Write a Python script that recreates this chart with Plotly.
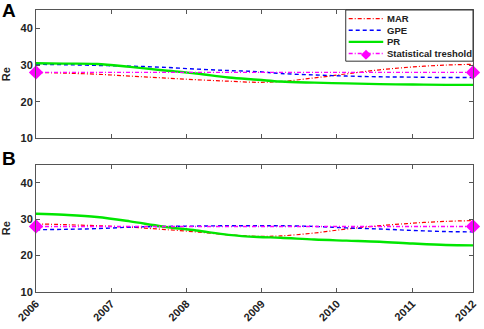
import plotly.graph_objects as go

# ---- data ----
years = [2006.00, 2006.37, 2006.81, 2007.25, 2007.68, 2008.13, 2008.56, 2008.95,
         2009.25, 2009.70, 2010.13, 2010.57, 2011.01, 2011.45, 2011.81]

mar_a = [28.0, 27.8, 27.5, 27.0, 26.5, 26.0, 25.6, 25.3, 25.5, 26.5, 27.6, 28.7, 29.5, 30.0, 30.2]
gpe_a = [30.2, 30.1, 29.9, 29.7, 29.4, 28.9, 28.5, 28.2, 27.7, 27.3, 27.0, 26.8, 26.7, 26.6, 26.6]
pr_a  = [30.5, 30.4, 30.3, 29.5, 28.6, 27.7, 26.6, 26.0, 25.5, 25.2, 25.0, 24.8, 24.7, 24.6, 24.6]

mar_b = [28.7, 28.5, 28.2, 27.8, 27.2, 26.5, 25.7, 25.3, 25.4, 26.2, 27.3, 28.2, 28.9, 29.4, 29.6]
gpe_b = [27.1, 27.2, 27.4, 27.8, 28.0, 28.1, 28.2, 28.2, 28.2, 28.0, 27.6, 27.3, 26.9, 26.6, 26.5]
pr_b  = [31.5, 31.2, 30.6, 29.4, 28.0, 26.9, 25.7, 25.1, 24.9, 24.4, 24.1, 23.8, 23.3, 22.9, 22.8]

threshold_x = [2006.00, 2011.81]
threshold_y = [28.0, 28.0]

x_tick_pos = [2006, 2007, 2008, 2009, 2010, 2011, 2011.81]
x_tick_labels = ["2006", "2007", "2008", "2009", "2010", "2011", "2012"]
y_ticks = [10, 20, 30, 40]

series_names = ["MAR", "GPE", "PR", "Statistical treshold"]
series_colors = ["#ff0000", "#0000ff", "#00e600", "#ff00ff"]
series_dash = ["4px,2px,1px,2px", "4px,3px", "solid", "4px,2px,1px,2px"]
series_width = [1.2, 1.4, 2.4, 1.4]

panel_labels = ["A", "B"]

FONT = "Liberation Sans"
W, H = 484, 329
ML, MR, MT, MB = 35, 6, 10, 27
PW, PH = W - ML - MR, H - MT - MB


def px_to_paper(px, py):
    return (px - ML) / PW, (H - MB - py) / PH


fig = go.Figure()

panels = [([mar_a, gpe_a, pr_a], "x", "y"), ([mar_b, gpe_b, pr_b], "x2", "y2")]
for vals, xa, ya in panels:
    for i, v in enumerate(vals):
        fig.add_trace(go.Scatter(x=years, y=v, name=series_names[i], mode="lines",
                                 line_shape="spline",
                                 line=dict(color=series_colors[i], width=series_width[i],
                                           dash=series_dash[i]),
                                 xaxis=xa, yaxis=ya, showlegend=False))
    fig.add_trace(go.Scatter(x=threshold_x, y=threshold_y, name=series_names[3],
                             mode="lines+markers",
                             line=dict(color=series_colors[3], width=series_width[3],
                                       dash=series_dash[3]),
                             marker=dict(symbol="diamond", size=11, color=series_colors[3]),
                             cliponaxis=False, xaxis=xa, yaxis=ya, showlegend=False))

ax_common = dict(showline=True, linecolor="#555555", linewidth=1, mirror="ticks",
                 ticks="inside", ticklen=4, tickcolor="#555555", showgrid=False,
                 zeroline=False,
                 tickfont=dict(family=FONT, size=11, color="#222222", weight="bold"))
ytitle = dict(text="<b>Re</b>", standoff=7, font=dict(family=FONT, size=11, color="#222222"))

fig.update_layout(
    width=W, height=H,
    margin=dict(l=ML, r=MR, t=MT, b=MB),
    paper_bgcolor="white", plot_bgcolor="white",
    font=dict(family=FONT, color="#222222"),
    xaxis=dict(domain=[0, 1], anchor="y", range=[2006, 2011.81], tickvals=x_tick_pos,
               ticktext=x_tick_labels, showticklabels=False, **ax_common),
    yaxis=dict(domain=[0.5445, 1], anchor="x", range=[10, 45], tickvals=y_ticks,
               title=ytitle, **ax_common),
    xaxis2=dict(domain=[0, 1], anchor="y2", range=[2006, 2011.81], tickvals=x_tick_pos,
                ticktext=x_tick_labels, tickangle=-45, ticklabelstandoff=0, **ax_common),
    yaxis2=dict(domain=[0, 0.452], anchor="x2", range=[10, 45], tickvals=y_ticks,
                title=ytitle, **ax_common),
    showlegend=False,
)

# ---- manual legend (compact, as in the reference) ----
bx0, by1 = px_to_paper(349, 10)
bx1, by0 = px_to_paper(478, 63)
fig.add_shape(type="rect", xref="paper", yref="paper", x0=bx0, x1=bx1, y0=by0, y1=by1,
              line=dict(color="#333333", width=1), fillcolor="white", layer="above")
row_py = [19, 31, 43, 55]
for i, name in enumerate(series_names):
    lx0, ly = px_to_paper(352, row_py[i])
    lx1, _ = px_to_paper(387, row_py[i])
    fig.add_shape(type="line", xref="paper", yref="paper", x0=lx0, x1=lx1, y0=ly, y1=ly,
                  line=dict(color=series_colors[i], width=series_width[i], dash=series_dash[i]),
                  layer="above")
    tx, _ = px_to_paper(389, row_py[i])
    fig.add_annotation(text="<b>%s</b>" % name, xref="paper", yref="paper", x=tx, y=ly,
                       xanchor="left", yanchor="middle", showarrow=False,
                       font=dict(family=FONT, size=9.5, color="#222222"))
dx, dy = px_to_paper(369.5, row_py[3])
fig.add_annotation(text="◆", xref="paper", yref="paper", x=dx, y=dy, xanchor="center",
                   yanchor="middle", showarrow=False,
                   font=dict(family="DejaVu Sans", size=13, color=series_colors[3]))

# ---- panel letters ----
for lab, cy in zip(panel_labels, [11, 164]):
    ax_, ay_ = px_to_paper(8, cy)
    fig.add_annotation(text="<b>%s</b>" % lab, xref="paper", yref="paper", x=ax_, y=ay_,
                       xanchor="center", yanchor="middle", showarrow=False,
                       font=dict(family=FONT, size=19, color="black"))

fig.write_html("out.html", config={"displayModeBar": False},
               post_script="document.body.style.margin='0';document.body.style.padding='0';"
                           "document.body.style.overflow='hidden';")
